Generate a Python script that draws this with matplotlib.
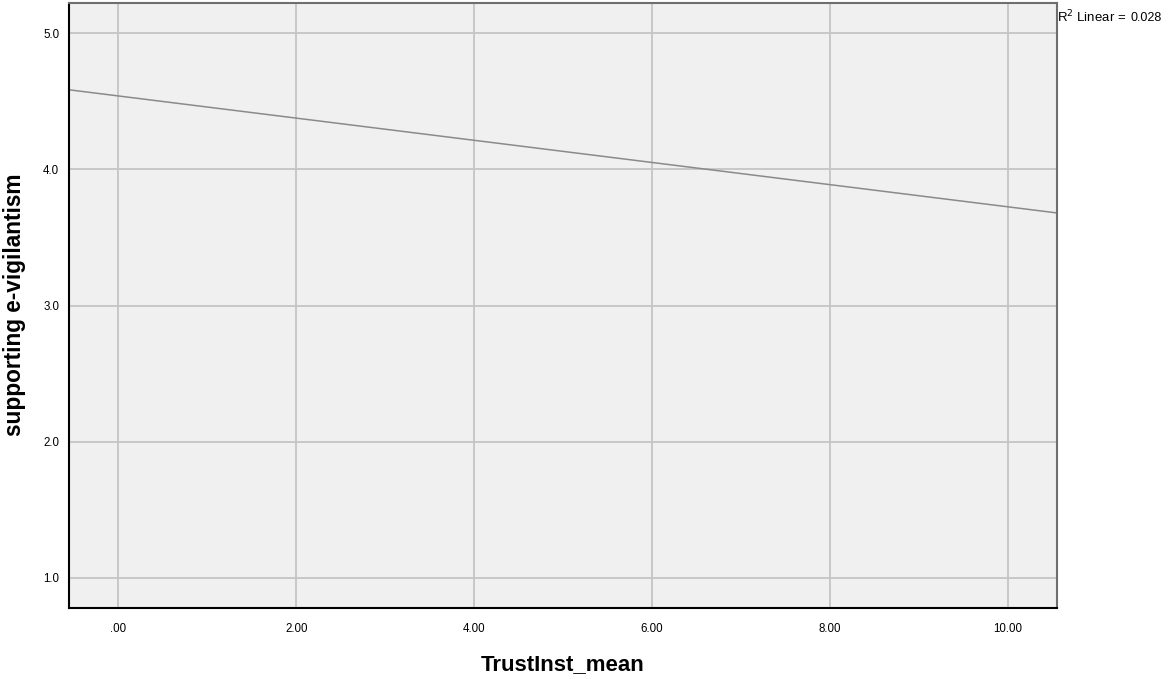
import matplotlib
matplotlib.use("Agg")
import matplotlib.pyplot as plt
import numpy as np

# Fitted linear regression of support on institutional trust
intercept = 4.54
slope = -0.0815
r_squared = 0.028

x_ticks = [0, 2, 4, 6, 8, 10]
x_tick_labels = [".00", "2.00", "4.00", "6.00", "8.00", "10.00"]
y_ticks = [1.0, 2.0, 3.0, 4.0, 5.0]
y_tick_labels = ["1.0", "2.0", "3.0", "4.0", "5.0"]

x_range = (-0.554, 10.55)
y_range = (0.777, 5.223)

plt.rcParams["font.family"] = ["Liberation Sans", "DejaVu Sans"]

fig = plt.figure(figsize=(11.68, 6.79), dpi=100)
W, H = 1168, 679
ax = fig.add_axes([69 / W, (H - 608) / H, 988 / W, 605 / H])
ax.set_facecolor("#f0f0f0")

ax.set_xlim(*x_range)
ax.set_ylim(*y_range)
ax.set_xticks(x_ticks)
ax.set_xticklabels(x_tick_labels, fontsize=8.3)
ax.set_yticks(y_ticks)
ax.set_yticklabels(y_tick_labels, fontsize=8.3)
ax.tick_params(axis="x", length=0, pad=11)
ax.tick_params(axis="y", length=0, pad=7)

ax.grid(True, color="#c4c4c4", linewidth=1.3)
ax.set_axisbelow(True)

for side in ("left", "bottom"):
    ax.spines[side].set_color("#000000")
    ax.spines[side].set_linewidth(1.5)
for side in ("top", "right"):
    ax.spines[side].set_color("#6e6e6e")
    ax.spines[side].set_linewidth(1.5)

xs = np.array(x_range)
ax.plot(xs, intercept + slope * xs, color="#8a8a8a", linewidth=1.1)

fig.text(563 / W, 1 - 665 / H, "TrustInst_mean", fontsize=16, fontweight="bold",
         ha="center", va="center")
fig.text(15 / W, 1 - 305 / H, "supporting e-vigilantism", fontsize=16.3, fontweight="bold",
         ha="center", va="center", rotation=90)

r2_label = fig.text(1057 / W, 1 - 17 / H, r"R$^2$ Linear =", fontsize=9.5,
                    va="center", ha="left")
ax.annotate(f"{r_squared:.3f}", xy=(1.0, 0.42), xycoords=r2_label,
            xytext=(3, 0), textcoords="offset points",
            fontsize=9, va="center", ha="left", annotation_clip=False)

fig.savefig("out.png", dpi=100)
